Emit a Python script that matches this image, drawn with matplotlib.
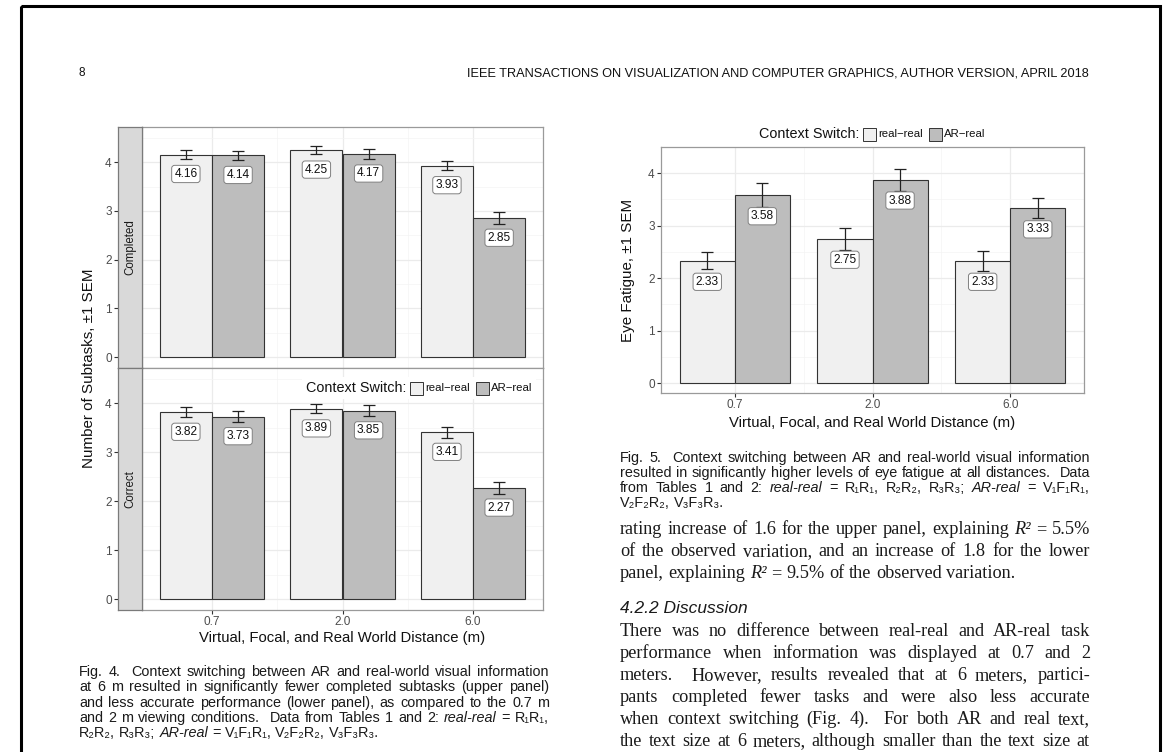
import matplotlib
matplotlib.use("Agg")
import matplotlib.pyplot as plt
from matplotlib.patches import Rectangle
import numpy as np

# ------------------------------
# Data
# ------------------------------

dist_labels = ["0.7", "2.0", "6.0"]

completed_real = [4.16, 4.25, 3.93]
completed_ar = [4.14, 4.17, 2.85]
completed_real_se = [0.085, 0.085, 0.095]
completed_ar_se = [0.09, 0.095, 0.125]

correct_real = [3.82, 3.89, 3.41]
correct_ar = [3.73, 3.85, 2.27]
correct_real_se = [0.10, 0.095, 0.11]
correct_ar_se = [0.115, 0.11, 0.13]

fatigue_real = [2.33, 2.75, 2.33]
fatigue_ar = [3.58, 3.88, 3.33]
fatigue_real_se = [0.165, 0.21, 0.185]
fatigue_ar_se = [0.225, 0.21, 0.19]

W, H = 1171, 752
REAL_COL = "#F0F0F0"
AR_COL = "#BDBDBD"
EDGE = "#333333"
SANS = ["Liberation Sans", "DejaVu Sans"]
SERIF = ["Liberation Serif", "DejaVu Serif"]

plt.rcParams["font.family"] = SANS

fig = plt.figure(figsize=(W / 100, H / 100), dpi=100)


def rect(l, t, r, b):
    return [l / W, 1 - b / H, (r - l) / W, (b - t) / H]


def style_panel(ax, ylim, show_x):
    ax.set_xlim(0.464, 3.536)
    ax.set_ylim(*ylim)
    ax.set_xticks([1, 2, 3])
    ax.set_xticks([1.5, 2.5], minor=True)
    ax.set_yticks(range(5))
    ax.set_yticks(np.arange(0.5, 4.6, 1.0), minor=True)
    ax.grid(which="major", color="#EBEBEB", lw=0.9, zorder=0)
    ax.grid(which="minor", color="#F4F4F4", lw=0.5, zorder=0)
    ax.set_axisbelow(True)
    for s in ax.spines.values():
        s.set_color("#9A9A9A")
        s.set_linewidth(0.9)
    ax.tick_params(which="minor", length=0)
    ax.tick_params(axis="y", which="major", length=0, labelleft=False)
    if show_x:
        ax.set_xticklabels(dist_labels)
        ax.tick_params(axis="x", which="major", length=3, color="#333333",
                       labelcolor="#4D4D4D", labelsize=8.5, pad=1.5)
    else:
        ax.tick_params(axis="x", which="major", length=0, labelbottom=False)


def draw_bars(ax, real, ar, real_se, ar_se):
    x = np.arange(1, len(real) + 1)
    ax.bar(x - 0.2, real, width=0.4, color=REAL_COL, edgecolor=EDGE, lw=0.8, zorder=2)
    ax.bar(x + 0.2, ar, width=0.4, color=AR_COL, edgecolor=EDGE, lw=0.8, zorder=2)
    ax.errorbar(x - 0.2, real, yerr=real_se, fmt="none", ecolor="#222222",
                elinewidth=0.9, capsize=4.5, capthick=0.9, zorder=3)
    ax.errorbar(x + 0.2, ar, yerr=ar_se, fmt="none", ecolor="#222222",
                elinewidth=0.9, capsize=4.5, capthick=0.9, zorder=3)
    for xs, vals in ((x - 0.2, real), (x + 0.2, ar)):
        for xi, v in zip(xs, vals):
            ax.text(xi, v - 0.4, f"{v:.2f}", ha="center", va="center", fontsize=8.6,
                    color="#111111", zorder=4,
                    bbox=dict(boxstyle="round,pad=0.22,rounding_size=0.25",
                              fc="white", ec="#808080", lw=0.7))


def strip(rc, label, ylim):
    ax = fig.add_axes(rc)
    ax.set_facecolor("#D9D9D9")
    ax.set_xlim(0, 1)
    ax.set_ylim(*ylim)
    ax.set_xticks([])
    ax.set_yticks(range(5))
    ax.tick_params(axis="y", length=3, color="#333333", labelcolor="#4D4D4D",
                   labelsize=8.5, pad=1.5)
    for s in ax.spines.values():
        s.set_color("#7A7A7A")
        s.set_linewidth(0.9)
    ax.text(0.5, 0.5, label, transform=ax.transAxes, rotation=90, ha="center",
            va="center", fontsize=8.3, color="#1A1A1A")
    return ax


# ------------------------------
# Fig. 4 (faceted bars)
# ------------------------------

ylim4 = (-0.225, 4.725)

ax_up = fig.add_axes(rect(142, 127, 543, 368))
style_panel(ax_up, ylim4, False)
draw_bars(ax_up, completed_real, completed_ar, completed_real_se, completed_ar_se)

ax_lo = fig.add_axes(rect(142, 368, 543, 610))
style_panel(ax_lo, ylim4, True)
draw_bars(ax_lo, correct_real, correct_ar, correct_real_se, correct_ar_se)

strip(rect(118, 127, 142, 368), "Completed", ylim4)
strip(rect(118, 368, 142, 610), "Correct", ylim4)

# ------------------------------
# Fig. 5 (eye fatigue)
# ------------------------------

ax5 = fig.add_axes(rect(661, 147, 1084, 393))
style_panel(ax5, (-0.19, 4.45), True)
ax5.tick_params(axis="y", which="major", length=3, color="#333333",
                labelcolor="#4D4D4D", labelsize=8.5, pad=1.5, labelleft=True)
draw_bars(ax5, fatigue_real, fatigue_ar, fatigue_real_se, fatigue_ar_se)

# ------------------------------
# Page layer: text, legends, border
# ------------------------------

page = fig.add_axes([0, 0, 1, 1], facecolor="none")
page.set_xlim(0, W)
page.set_ylim(H, 0)
page.axis("off")
renderer = fig.canvas.get_renderer()


def text_width(t):
    return t.get_window_extent(renderer=renderer).width


def word_width(s, size, family, style="normal"):
    t = page.text(0, 0, s, fontsize=size, family=family, style=style)
    w = text_width(t)
    t.remove()
    return w


def split_tokens(line):
    out = []
    for tok in line.split(" "):
        if tok.startswith("*") and tok.endswith("*") and len(tok) > 2:
            out.append((tok[1:-1], "italic"))
        else:
            out.append((tok, "normal"))
    return out


def space_width(size, family):
    return word_width("a a", size, family) - word_width("aa", size, family)


def fit_size(lines, family, width, base=10.0):
    # font size at which the widest full line sets naturally in the column
    sp = space_width(base, family)
    widest = 0
    for ln in lines:
        toks = split_tokens(ln)
        w = sum(word_width(t, base, family, st) for t, st in toks if t) + sp * (len(toks) - 1)
        widest = max(widest, w)
    return base * width / widest


def put_line(line, x0, y, size, family, width=None, color="#1A1A1A"):
    toks = split_tokens(line)
    items = []
    total = 0.0
    for tok, style in toks:
        if tok == "":
            items.append(None)
            continue
        t = page.text(x0, y, tok, fontsize=size, family=family, style=style,
                      va="baseline", ha="left", color=color)
        w = text_width(t)
        total += w
        items.append((t, w))
    ngaps = len(toks) - 1
    gap = space_width(size, family)
    if width is not None and ngaps > 0:
        gap = (width - total) / ngaps
    x = x0
    for it in items:
        if it is None:
            x += gap
            continue
        t, w = it
        t.set_x(x)
        x += w + gap


def paragraph(lines, x0, x1, y0, lh, size, family, last_full=False):
    for i, ln in enumerate(lines):
        full = (i < len(lines) - 1) or last_full
        put_line(ln, x0, y0 + i * lh, size, family, (x1 - x0) if full else None)


def legend(x, y, right=None, center=None, bg=False):
    t1 = page.text(0, y, "Context Switch:", fontsize=10.4, va="center", color="#111111")
    t2 = page.text(0, y, "real\u2212real", fontsize=8.2, va="center", color="#111111")
    t3 = page.text(0, y, "AR\u2212real", fontsize=8.2, va="center", color="#111111")
    w1, w2, w3 = text_width(t1), text_width(t2), text_width(t3)
    k = 13
    total = w1 + 4 + k + 2 + w2 + 6 + k + 2 + w3
    if right is not None:
        x = right - total
    if center is not None:
        x = center - total / 2
    if bg:
        page.add_patch(Rectangle((x - 4, y - 11), total + 8, 22, fc="white", ec="none", zorder=1))
    t1.set_x(x)
    x += w1 + 4
    page.add_patch(Rectangle((x, y - k / 2), k, k, fc=REAL_COL, ec=EDGE, lw=0.7, zorder=2))
    x += k + 2
    t2.set_x(x)
    x += w2 + 6
    page.add_patch(Rectangle((x, y - k / 2), k, k, fc=AR_COL, ec=EDGE, lw=0.7, zorder=2))
    x += k + 2
    t3.set_x(x)
    for t in (t1, t2, t3):
        t.set_zorder(3)


legend(0, 388, right=532, bg=True)
legend(0, 134, center=872)

# axis titles
page.text(342, 638, "Virtual, Focal, and Real World Distance (m)", fontsize=10.7,
          ha="center", va="center", color="#111111")
page.text(89, 368, "Number of Subtasks, \u00b11 SEM", fontsize=10.9, rotation=90,
          ha="center", va="center", color="#111111")
page.text(872, 423, "Virtual, Focal, and Real World Distance (m)", fontsize=10.7,
          ha="center", va="center", color="#111111")
page.text(628, 270, "Eye Fatigue, \u00b11 SEM", fontsize=10.9, rotation=90,
          ha="center", va="center", color="#111111")

# running header
page.text(82, 73, "8", fontsize=8.5, ha="center", va="center", color="#111111")
hdr = page.text(1089, 73, "IEEE TRANSACTIONS ON VISUALIZATION AND COMPUTER GRAPHICS, AUTHOR VERSION, APRIL 2018",
                fontsize=8, ha="right", va="center", color="#111111")
hdr.set_fontsize(8 * 622 / text_width(hdr))

# captions
LEFT0, LEFT1 = 79, 549
RIGHT0, RIGHT1 = 620, 1090

cap4 = [
    "Fig. 4.  Context switching between AR and real-world visual information",
    "at 6 m resulted in significantly fewer completed subtasks (upper panel)",
    "and less accurate performance (lower panel), as compared to the 0.7 m",
    "and 2 m viewing conditions.  Data from Tables 1 and 2: *real-real* = R\u2081R\u2081,",
    "R\u2082R\u2082, R\u2083R\u2083; *AR-real* = V\u2081F\u2081R\u2081, V\u2082F\u2082R\u2082, V\u2083F\u2083R\u2083.",
]
cap5 = [
    "Fig. 5.  Context switching between AR and real-world visual information",
    "resulted in significantly higher levels of eye fatigue at all distances.  Data",
    "from Tables 1 and 2: *real-real* = R\u2081R\u2081, R\u2082R\u2082, R\u2083R\u2083; *AR-real* = V\u2081F\u2081R\u2081,",
    "V\u2082F\u2082R\u2082, V\u2083F\u2083R\u2083.",
]
cap_size = fit_size(cap4[:3] + cap5[:2], SANS, LEFT1 - LEFT0) * 0.985
paragraph(cap4, LEFT0, LEFT1, 676, 15.3, cap_size, SANS)
paragraph(cap5, RIGHT0, RIGHT1, 462, 15.0, cap_size, SANS)

body1 = [
    "rating increase of 1.6 for the upper panel, explaining *R\u00b2* = 5.5%",
    "of the observed variation, and an increase of 1.8 for the lower",
    "panel, explaining *R\u00b2* = 9.5% of the observed variation.",
]
body2 = [
    "There was no difference between real-real and AR-real task",
    "performance when information was displayed at 0.7 and 2",
    "meters.  However, results revealed that at 6 meters, partici-",
    "pants completed fewer tasks and were also less accurate",
    "when context switching (Fig. 4).  For both AR and real text,",
    "the text size at 6 meters, although smaller than the text size at",
]
body_size = fit_size(body1[:2] + body2, SERIF, RIGHT1 - RIGHT0) * 0.985
paragraph(body1, RIGHT0, RIGHT1, 534, 22.0, body_size, SERIF)

page.text(RIGHT0, 613, "4.2.2 Discussion", fontsize=body_size * 0.95, style="italic",
          va="baseline", color="#1A1A1A")

paragraph(body2, RIGHT0, RIGHT1, 636.5, 21.9, body_size, SERIF, last_full=True)

# page border
page.add_patch(Rectangle((21, 6), 1139, 800, fill=False, ec="black", lw=2.2, zorder=5))

fig.savefig("out.png", dpi=100)
